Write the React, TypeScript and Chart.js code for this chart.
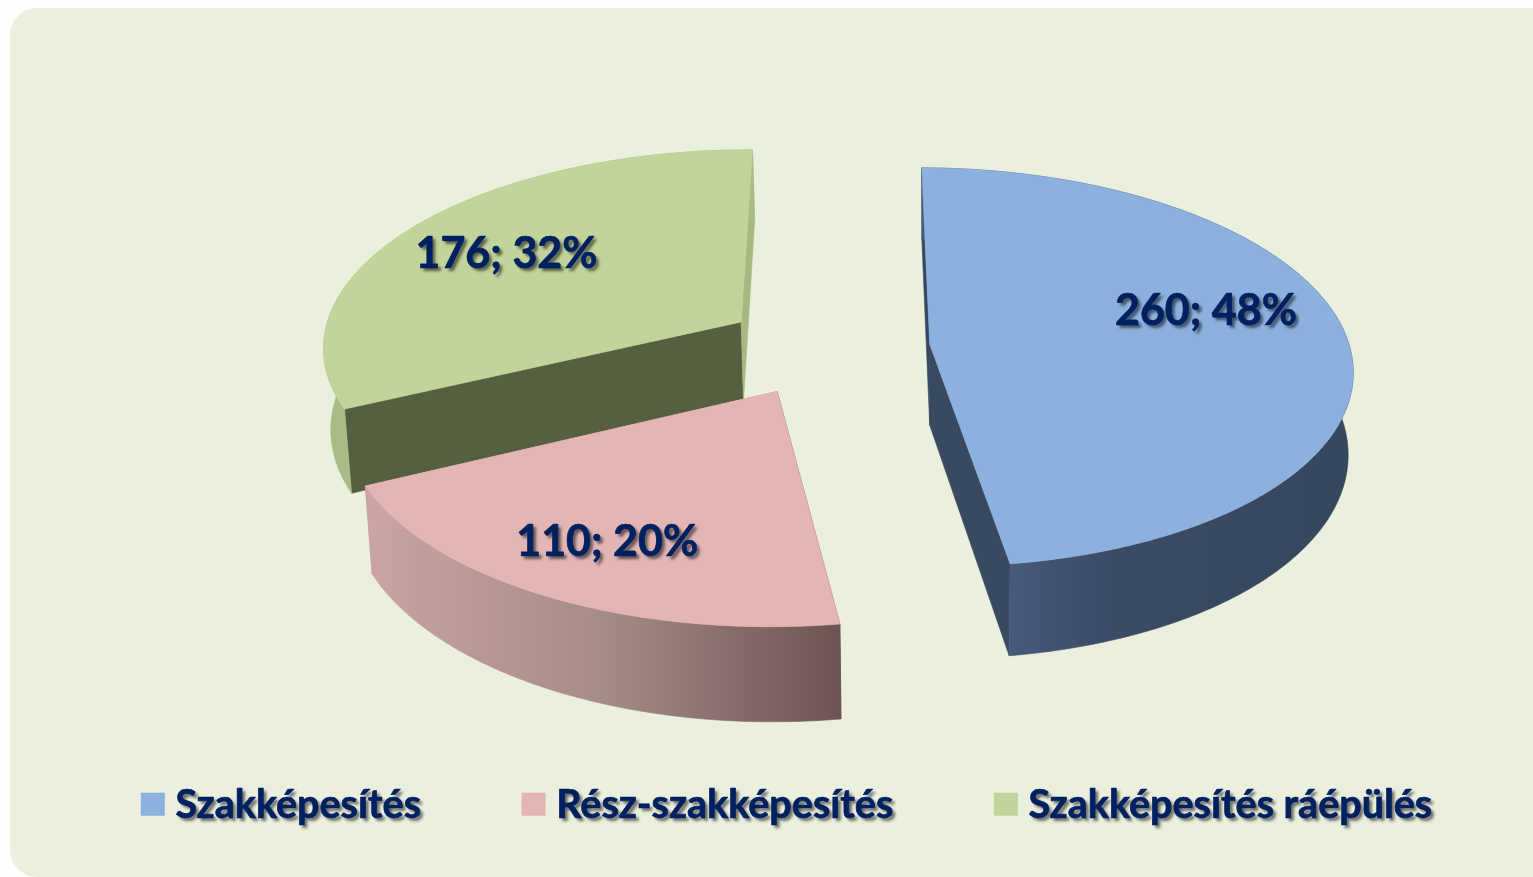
import React, { useEffect, useRef } from "react";
import { Chart, registerables } from "chart.js";

Chart.register(...registerables);

const categories = ["Szakképesítés", "Rész-szakképesítés", "Szakképesítés ráépülés"];
const values = [260, 110, 176];
const percents = ["48%", "20%", "32%"];
const topColors = ["#8CB1DF", "#E3B5B5", "#C3D49A"];
const paintOrder = [2, 0, 1];
// where each value label sits on the pie plane (fractions of the radius)
const labelAnchors = [
  [0.922, -0.19],
  [-0.47, 0.885],
  [-0.807, -0.5],
];

const FONT = "Lato, Carlito, sans-serif";
const NAVY = "#002060";
const CX = 827, CY = 347.5, RX = 420, TILT = 0.47, PERSP = 0.115, VX = 930;
const LABEL_SIZE = 43;
const LEGEND_SIZE = 39.5;
const LEGEND_DX = 24.5;
const LEGEND_DY = -43;
const LEGEND_TEXT_SHIFT = 9;

const project = (nu: number, nv: number, z: number) => {
  const w = 1 / (1 - PERSP * nv);
  let x = CX + RX * nu * w;
  let y = CY + RX * TILT * nv * w;
  if (z) {
    x += (VX - x) * 0.012;
    y += 72 + 0.05 * (y - 165);
  }
  return [x, y];
};

const polygon = (ctx: CanvasRenderingContext2D, pts: number[][], fill: any) => {
  ctx.beginPath();
  pts.forEach((p, i) => (i ? ctx.lineTo(p[0], p[1]) : ctx.moveTo(p[0], p[1])));
  ctx.closePath();
  ctx.fillStyle = fill;
  ctx.fill();
  ctx.strokeStyle = fill;
  ctx.lineWidth = 0.6;
  ctx.stroke();
};

const wallGradient = (ctx: CanvasRenderingContext2D, i: number, x0: number, x1: number) => {
  if (i === 2) return "#ABBB86";
  const g = ctx.createLinearGradient(x0, 0, x1, 0);
  if (i === 0) {
    g.addColorStop(0, "#47597A");
    g.addColorStop(0.3, "#3B4B65");
    g.addColorStop(1, "#36465C");
  } else {
    g.addColorStop(0, "#C9A4A3");
    g.addColorStop(0.5, "#A58B88");
    g.addColorStop(1, "#6C5453");
  }
  return g;
};
const startWall = ["#36465C", "#6C5453", "#575F41"];
const endWall = ["#39495F", "#C9A4A3", "#A8B880"];

// Heavy navy text with the soft drop shadow of the original
const heavyText = (
  ctx: any,
  fill: (t: string, x: number, y: number) => void,
  t: string,
  x: number,
  y: number
) => {
  ctx.save();
  ctx.shadowColor = "rgba(0,0,0,0.55)";
  ctx.shadowBlur = 3;
  ctx.shadowOffsetX = 3;
  ctx.shadowOffsetY = 3;
  fill.call(ctx, t, x, y);
  ctx.restore();
  ctx.save();
  ctx.strokeStyle = NAVY;
  ctx.lineWidth = 0.7;
  ctx.lineJoin = "round";
  ctx.strokeText(t, x, y);
  ctx.restore();
};

const pie3d = {
  id: "pie3d",
  beforeDraw(chart: any) {
    const legend = chart.legend;
    if (legend && !legend.__patched) {
      legend.__patched = true;
      const orig = legend.draw.bind(legend);
      legend.draw = () => {
        const ctx = chart.ctx;
        ctx.save();
        ctx.translate(LEGEND_DX, LEGEND_DY);
        const fillText = ctx.fillText;
        ctx.fillText = function (t: string, x: number, y: number) {
          heavyText(ctx, fillText, t, x - LEGEND_TEXT_SHIFT, y + 1);
        };
        orig();
        delete ctx.fillText;
        ctx.restore();
      };
    }
  },
  beforeDatasetsDraw(chart: any) {
    const ctx: CanvasRenderingContext2D = chart.ctx;
    const meta = chart.getDatasetMeta(0);
    paintOrder.forEach((i) => {
      const el = meta.data[i];
      const { startAngle, endAngle, outerRadius } = el.getProps(
        ["startAngle", "endAngle", "outerRadius"],
        true
      );
      const mid = (startAngle + endAngle) / 2;
      const d = el.options.offset / outerRadius;
      const ox = d * Math.cos(mid);
      const oy = d * Math.sin(mid);
      const n = Math.max(2, Math.ceil((endAngle - startAngle) / 0.01));
      const rim = (z: number) => {
        const out: number[][] = [];
        for (let k = 0; k <= n; k++) {
          const a = startAngle + ((endAngle - startAngle) * k) / n;
          out.push(project(ox + Math.cos(a), oy + Math.sin(a), z));
        }
        return out;
      };
      const top = rim(0);
      const bottom = rim(1);
      const apexTop = project(ox, oy, 0);
      const apexBottom = project(ox, oy, 1);
      polygon(ctx, [apexTop, top[0], bottom[0], apexBottom], startWall[i]);
      polygon(ctx, [apexTop, top[n], bottom[n], apexBottom], endWall[i]);
      const xs = bottom.map((p) => p[0]);
      const lo = Math.min(...xs);
      const hi = Math.max(...xs);
      const x0 = i === 0 ? project(ox + Math.cos(endAngle), oy + Math.sin(endAngle), 0)[0] : lo;
      polygon(ctx, [...top, ...bottom.slice().reverse()], wallGradient(ctx, i, x0, hi));
      polygon(ctx, [apexTop, ...top], el.options.backgroundColor);
    });
    ctx.save();
    ctx.font = `bold ${LABEL_SIZE}px ${FONT}`;
    ctx.textAlign = "center";
    ctx.textBaseline = "middle";
    ctx.fillStyle = NAVY;
    values.forEach((v, i) => {
      const [x, y] = project(labelAnchors[i][0], labelAnchors[i][1], 0);
      heavyText(ctx, ctx.fillText, `${v}; ${percents[i]}`, x, y);
    });
    ctx.restore();
    return false;
  },
};

export default function App() {
  const ref = useRef<HTMLCanvasElement>(null);
  useEffect(() => {
    document.body.style.margin = "0";
    document.body.style.overflow = "hidden";
    const chart = new Chart(ref.current as HTMLCanvasElement, {
      type: "pie",
      plugins: [pie3d],
      data: {
        labels: categories,
        datasets: [
          {
            data: values,
            backgroundColor: topColors,
            borderWidth: 0,
            offset: 80.5,
          },
        ],
      },
      options: {
        responsive: false,
        animation: false,
        rotation: 0.4,
        plugins: {
          tooltip: { enabled: false },
          legend: {
            position: "bottom",
            labels: {
              boxWidth: 24,
              boxHeight: 23,
              padding: 91.5,
              color: NAVY,
              font: { family: FONT, size: LEGEND_SIZE, weight: "bold" },
            },
          },
        },
      },
    } as any);
    return () => chart.destroy();
  }, []);
  return (
    <div style={{ position: "relative", width: 1533, height: 877, overflow: "hidden", background: "#FEFEFC" }}>
      <div
        style={{
          position: "absolute",
          left: 10,
          top: 8,
          width: 1560,
          height: 869,
          borderRadius: 27,
          background: "#EBEFDE",
        }}
      />
      <canvas ref={ref} width={1533} height={877} style={{ position: "absolute", left: 0, top: 0 }} />
    </div>
  );
}
